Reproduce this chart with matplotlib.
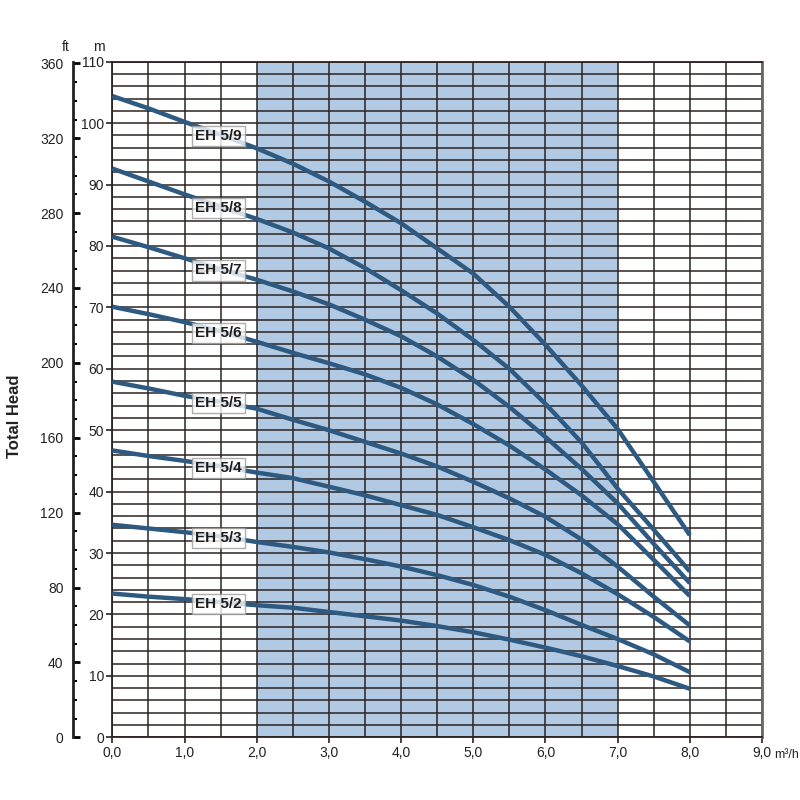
import numpy as np
import matplotlib
matplotlib.use('Agg')
import matplotlib.pyplot as plt
from matplotlib.ticker import MultipleLocator

plt.rcParams['font.family'] = ['Liberation Sans Narrow', 'Liberation Sans', 'DejaVu Sans']

# flow rate (m3/h)
flow = [0.0, 0.5, 1.0, 1.5, 2.0, 2.5, 3.0, 3.5, 4.0, 4.5,
        5.0, 5.5, 6.0, 6.5, 7.0, 7.5, 8.0]

# total head (m) per pump model
eh59 = [104.4, 102.4, 100.2, 98.1, 95.9, 93.4, 90.5, 87.2, 83.7, 79.6,
        75.5, 70.1, 63.9, 57.3, 50.2, 41.6, 32.9]
eh58 = [92.6, 90.5, 88.4, 86.4, 84.4, 82.2, 79.6, 76.4, 72.8, 69.0,
        64.7, 60.0, 54.3, 48.0, 40.5, 33.8, 27.0]
eh57 = [81.5, 79.8, 78.0, 76.2, 74.5, 72.6, 70.5, 68.0, 65.3, 62.0,
        58.2, 53.8, 48.9, 43.7, 38.1, 31.5, 25.1]
eh56 = [70.1, 68.9, 67.6, 66.1, 64.4, 62.6, 60.9, 59.1, 56.9, 54.2,
        51.0, 47.5, 43.6, 39.4, 34.7, 28.9, 23.0]
eh55 = [57.9, 56.8, 55.6, 54.6, 53.5, 51.7, 50.0, 48.1, 46.2, 44.1,
        41.6, 38.9, 35.9, 32.2, 27.8, 22.9, 18.2]
eh54 = [46.7, 45.8, 45.0, 44.1, 43.1, 42.2, 40.8, 39.4, 37.8, 36.2,
        34.2, 32.1, 29.7, 26.7, 23.3, 19.6, 15.6]
eh53 = [34.6, 34.0, 33.4, 32.7, 31.8, 31.0, 30.1, 29.0, 27.8, 26.4,
        24.8, 22.9, 20.7, 18.3, 16.0, 13.5, 10.6]
eh52 = [23.4, 22.9, 22.5, 22.0, 21.5, 21.1, 20.4, 19.7, 19.0, 18.1,
        17.1, 15.9, 14.6, 13.2, 11.6, 9.9, 7.9]

models = ['EH 5/9', 'EH 5/8', 'EH 5/7', 'EH 5/6', 'EH 5/5', 'EH 5/4', 'EH 5/3', 'EH 5/2']
curves = [eh59, eh58, eh57, eh56, eh55, eh54, eh53, eh52]
label_flow = 1.47

x_ticks = [0, 1, 2, 3, 4, 5, 6, 7, 8, 9]
x_labels = ['0,0', '1,0', '2,0', '3,0', '4,0', '5,0', '6,0', '7,0', '8,0', '9,0']

line_col = '#2e5a82'
grid_col = '#2b2320'

fig = plt.figure(figsize=(8, 8), dpi=100)
ax = fig.add_axes([0.1404, 0.0784, 0.8121, 0.8445])

ax.axvspan(2, 7, color='#b1c9e2', zorder=0.5, lw=0)

ax.set_xlim(0, 9)
ax.set_ylim(0, 110)
ax.set_xticks(x_ticks)
ax.set_xticklabels(x_labels)
ax.xaxis.set_minor_locator(MultipleLocator(0.5))
ax.yaxis.set_major_locator(MultipleLocator(10))
ax.yaxis.set_minor_locator(MultipleLocator(2))
ax.grid(which='both', color=grid_col, lw=1.1)
ax.tick_params(which='minor', length=0)
ax.tick_params(which='major', length=4, width=1.2, color='#222222',
               labelsize=10, labelcolor='#222222', pad=2)

for name, head in zip(models, curves):
    ax.plot(flow, head, color=line_col, lw=3.2, solid_capstyle='butt', zorder=3)
    ax.text(label_flow, np.interp(label_flow, flow, head) - 0.3, name, fontsize=11,
            fontweight='bold', color='#1e1e1e', ha='center', va='center', zorder=4,
            bbox=dict(boxstyle='square,pad=0.2', facecolor='white', alpha=0.8,
                      edgecolor='#9a9a9a', lw=1))

for side in ['top', 'left', 'bottom']:
    ax.spines[side].set_color(grid_col)
    ax.spines[side].set_linewidth(1.3)
ax.spines['right'].set_color('#6d6864')
ax.spines['right'].set_linewidth(2)

# feet scale on the far left
ax2 = ax.twinx()
ax2.set_ylim(0, 110 / 0.3048)
ax2.yaxis.tick_left()
ax2.spines['left'].set_position(('axes', -0.06))
ax2.spines['left'].set_linewidth(2)
ax2.spines['left'].set_color('#222222')
for side in ['top', 'right', 'bottom']:
    ax2.spines[side].set_visible(False)
ax2.yaxis.set_major_locator(MultipleLocator(40))
ax2.yaxis.set_minor_locator(MultipleLocator(10))
ax2.tick_params(which='major', direction='in', length=5, width=2,
                labelsize=10, labelcolor='#222222', pad=7)
ax2.tick_params(which='minor', direction='in', length=3, width=1.5)

fig.text(0.082, 0.936, 'ft', fontsize=10, ha='center', color='#222222')
fig.text(0.123, 0.936, 'm', fontsize=10, ha='center', color='#222222')
fig.text(0.9985, 0.0565, 'm³/h', fontsize=9, ha='right', va='center', color='#222222')
fig.text(0.018, 0.48, 'Total Head', fontsize=12, fontweight='bold', rotation=90,
         ha='center', va='center', color='#222222')

fig.savefig('out.png', dpi=100)
